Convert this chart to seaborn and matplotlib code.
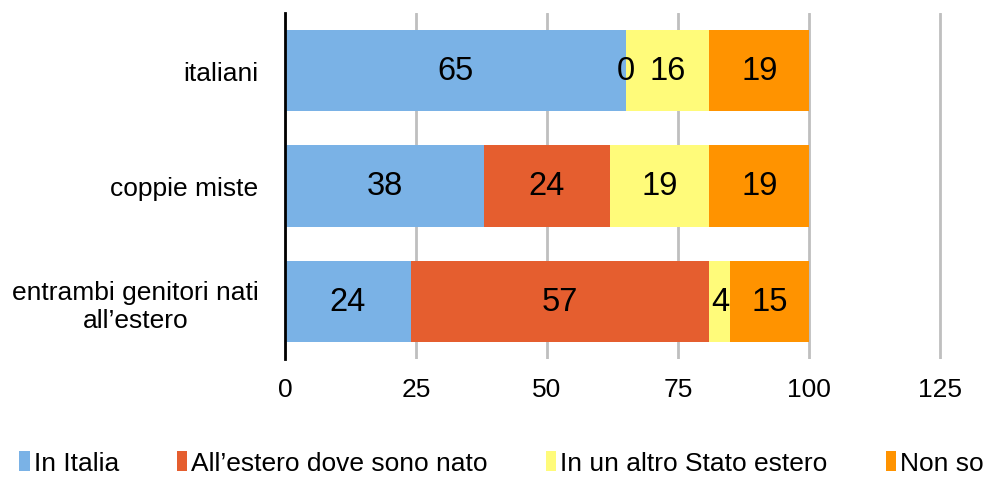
import numpy as np
import pandas as pd
import matplotlib
matplotlib.use("Agg")
import matplotlib.pyplot as plt
from matplotlib.patches import Patch
import seaborn as sns

# Survey answers (%) per family background
categories = ["italiani", "coppie miste", "entrambi genitori nati\nall\u2019estero"]
series_names = ["In Italia", "All\u2019estero dove sono nato",
                "In un altro Stato estero", "Non so"]
in_italia = [65, 38, 24]
estero_nato = [0, 24, 57]
altro_stato = [16, 19, 4]
non_so = [19, 19, 15]
x_ticks = [0, 25, 50, 75, 100, 125]

colors = ["#7AB2E6", "#E55E2F", "#FFFB7A", "#FF9300"]

sns.set_theme(style="white")
plt.rcParams["font.family"] = ["Liberation Sans", "DejaVu Sans"]
plt.rcParams["text.color"] = "black"

series = [in_italia, estero_nato, altro_stato, non_so]
values = np.array(series, dtype=float)
cum = np.cumsum(values, axis=0)
starts = cum - values

fig = plt.figure(figsize=(9.93, 4.81), dpi=100)
ax = fig.add_axes([0.287, 0.2516, 0.6702, 0.7194])

# Stacked bars: draw cumulative totals back to front
for i in range(len(series) - 1, -1, -1):
    df = pd.DataFrame({"cat": categories, "val": cum[i]})
    sns.barplot(data=df, x="val", y="cat", orient="h", color=colors[i],
                saturation=1, width=0.707, linewidth=0, ax=ax, zorder=2)

# Segment value labels
for i in range(len(series)):
    for j in range(len(categories)):
        ax.text(starts[i, j] + values[i, j] / 2, j, f"{values[i, j]:.0f}",
                ha="center", va="center", fontsize=23.5, color="black", zorder=3)

ax.set_xlim(0, 127)
ax.set_ylim(2.5, -0.5)
ax.set_xticks(x_ticks)
ax.set_xticklabels([str(t) for t in x_ticks])
ax.set_xlabel("")
ax.set_ylabel("")
ax.xaxis.grid(True, color="#BFBFBF", linewidth=2, zorder=0)
ax.set_axisbelow(True)
for s in ["top", "right", "bottom"]:
    ax.spines[s].set_visible(False)
ax.spines["left"].set_color("black")
ax.spines["left"].set_linewidth(2)
ax.spines["left"].set_zorder(4)
ax.tick_params(axis="both", length=0, labelsize=19, colors="black")
ax.tick_params(axis="y", pad=19)
ax.tick_params(axis="x", pad=13)
for lbl in ax.get_yticklabels():
    lbl.set_multialignment("center")

handles = [Patch(facecolor=c, edgecolor="none") for c in colors]
fig.legend(handles, series_names, loc="lower center", ncol=4,
           bbox_to_anchor=(0.505, -0.04), frameon=False, fontsize=19,
           labelcolor="black",
           handlelength=0.4, handleheight=0.8, handletextpad=0.15,
           columnspacing=2.2)

fig.savefig("out.png", dpi=100)
